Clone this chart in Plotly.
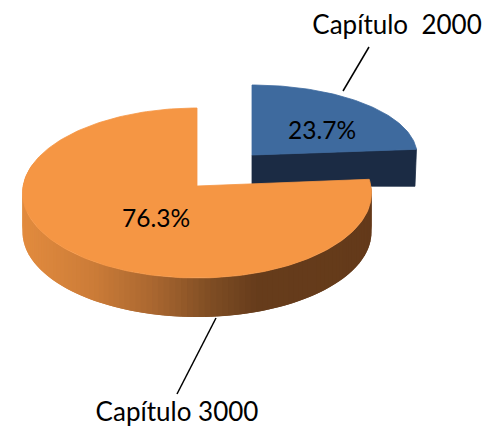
import numpy as np
import plotly.graph_objects as go

categories = ["Capítulo  2000", "Capítulo 3000"]
values = [23.7, 76.3]
percent_labels = ["23.7%", "76.3%"]

W, H = 484, 428
FONT = "Lato, Carlito, Calibri, sans-serif"
shares = np.array(values) / sum(values) * 2 * np.pi
split = shares[0]
persp = 0.08  # the tilted view pulls the orange slice's leading edge upward


def rim(cx, cy, rx, ry, t):
    return cx + rx * np.sin(t), cy - ry * np.cos(t)


def hex_mix(stops, u):
    xs = [s[0] for s in stops]
    ch = [np.interp(u, xs, [s[1][i] for s in stops]) for i in range(3)]
    return "rgb(%d,%d,%d)" % tuple(int(round(c)) for c in ch)


fig = go.Figure()


def poly(x, y, color, lw=0.8):
    fig.add_trace(go.Scatter(x=np.append(x, x[0]), y=np.append(y, y[0]), mode="lines",
                             fill="toself", fillcolor=color,
                             line=dict(color=color, width=lw),
                             hoverinfo="skip", showlegend=False))


# Blue slice (exploded)
b_apex = (252.0, 155.0)
b = dict(cx=252.0, cy=155.0, rx=165.0, ry=70.0)
b_depth = 31.0
tb = np.linspace(0, split, 80)
bx, by = rim(b["cx"], b["cy"], b["rx"], b["ry"], tb)
poly(np.array([b_apex[0], bx[-1], bx[-1] - 1.5, b_apex[0]]),
     np.array([b_apex[1], by[-1], by[-1] + b_depth + 6, b_apex[1] + b_depth]), "#1b2b44")
poly(np.concatenate([[b_apex[0]], bx]), np.concatenate([[b_apex[1]], by]), "#3e6a9e")

# Orange slice
o_apex = (197.0, 186.0)
o = dict(cx=197.0, cy=193.0, rx=174.5, ry=85.0)
o_depth = 39.0
stops = [(22, (226, 139, 62)), (90, (204, 124, 56)), (150, (170, 103, 48)),
         (210, (125, 76, 35)), (255, (102, 60, 27)), (370, (100, 58, 26))]
edges = np.linspace(split - persp, 1.62 * np.pi, 110)
# strips run from the dark right end to the light left end, each overlapping the next
for a0, a1 in zip(edges[:-2], edges[2:]):
    t = np.linspace(a0, a1, 4)
    x, y = rim(o["cx"], o["cy"], o["rx"], o["ry"], t)
    col = hex_mix(stops, float(x.mean()))
    poly(np.concatenate([x, x[::-1]]), np.concatenate([y, y[::-1] + o_depth]), col, lw=0)

to = np.linspace(split - persp, 2 * np.pi, 200)
ox, oy = rim(o["cx"], o["cy"], o["rx"], o["ry"], to)
poly(np.concatenate([[o_apex[0]], ox]), np.concatenate([[o_apex[1]], oy]), "#f59644")

# Leader lines
fig.add_trace(go.Scatter(x=[343, 369], y=[91, 47], mode="lines",
                         line=dict(color="black", width=1.5), hoverinfo="skip", showlegend=False))
fig.add_trace(go.Scatter(x=[216, 177], y=[318, 394], mode="lines",
                         line=dict(color="black", width=1.5), hoverinfo="skip", showlegend=False))

# Text
fig.add_trace(go.Scatter(
    x=[397, 177], y=[27, 414], mode="text",
    text=[categories[0], categories[1]],
    textposition="middle center",
    textfont=dict(family=FONT, size=26, color="black"),
    hoverinfo="skip", showlegend=False))
fig.add_trace(go.Scatter(
    x=[322, 156], y=[133, 221], mode="text",
    text=percent_labels,
    textposition="middle center",
    textfont=dict(family=FONT, size=24.5, color="black"),
    hoverinfo="skip", showlegend=False))

fig.update_xaxes(visible=False, range=[0, W], fixedrange=True)
fig.update_yaxes(visible=False, range=[H, 0], fixedrange=True)
fig.update_layout(width=W, height=H, margin=dict(l=0, r=0, t=0, b=0),
                  paper_bgcolor="white", plot_bgcolor="white", showlegend=False)
fig.write_html("out.html", config={"displayModeBar": False},
               post_script="document.body.style.margin='0';document.documentElement.style.overflow='hidden';")
